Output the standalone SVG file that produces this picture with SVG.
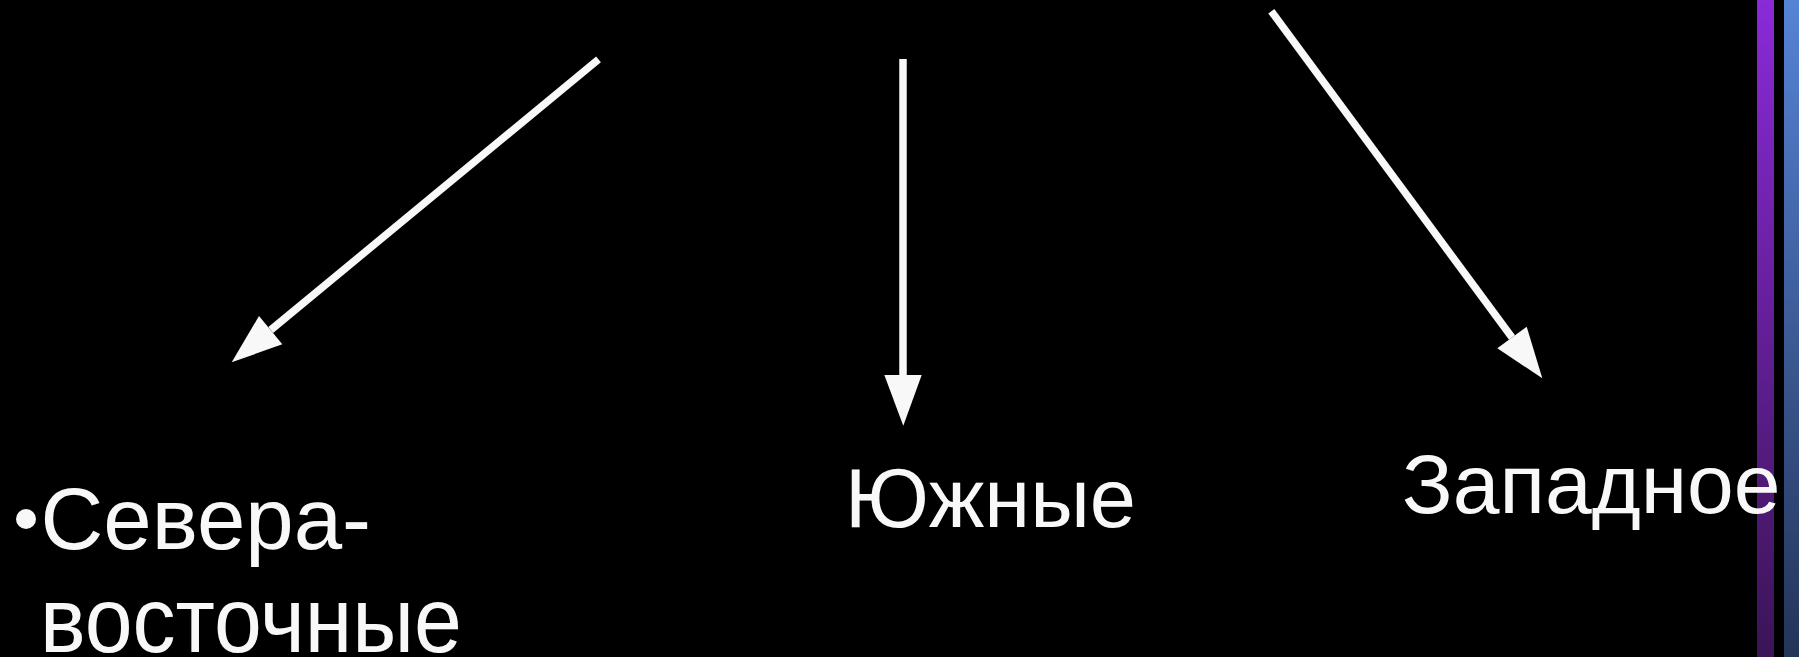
<svg xmlns="http://www.w3.org/2000/svg" width="1799" height="657" viewBox="0 0 1799 657">
<style>
.t{font-family:"Liberation Sans",Arial,sans-serif;fill:#f8f8f8}
.c{stroke:#f8f8f8;stroke-width:7.5;fill:none}
.h{fill:#f8f8f8}
</style>
<defs>
<linearGradient id="gp" x1="0" y1="0" x2="0" y2="1"><stop offset="0" stop-color="#8a2ad8"/><stop offset="1" stop-color="#3b1456"/></linearGradient>
<linearGradient id="gb" x1="0" y1="0" x2="0" y2="1"><stop offset="0" stop-color="#5683d6"/><stop offset="1" stop-color="#243458"/></linearGradient>
</defs>
<rect width="1799" height="657" fill="#000"/>
<rect x="1757" y="0" width="17" height="657" fill="url(#gp)"/>
<rect x="1784" y="0" width="15" height="657" fill="url(#gb)"/>
<g id="connectors">
<line class="c" x1="598.5" y1="59.3" x2="270.7" y2="330"/>
<polygon class="h" points="231.7,362.3 259,316 282.3,344.3"/>
<line class="c" x1="903" y1="59" x2="903" y2="376"/>
<polygon class="h" points="903.3,425.7 884.3,375 921.7,375"/>
<line class="c" x1="1271.3" y1="11.2" x2="1512" y2="337.5"/>
<polygon class="h" points="1542.3,378.3 1497.3,348.3 1526.7,326.7"/>
</g>
<g id="node-ne">
<circle class="h" cx="26" cy="519" r="10"/>
<text class="t" font-size="87" x="40.5" y="549.3">Севера-</text>
<text class="t" font-size="86" transform="translate(40,651.5) scale(1,1.08)">восточные</text>
</g>
<g id="node-s">
<text class="t" font-size="83" x="845" y="527.3">Южные</text>
</g>
<g id="node-w">
<text class="t" font-size="84" x="1402" y="513.3">Западное</text>
</g>
</svg>
